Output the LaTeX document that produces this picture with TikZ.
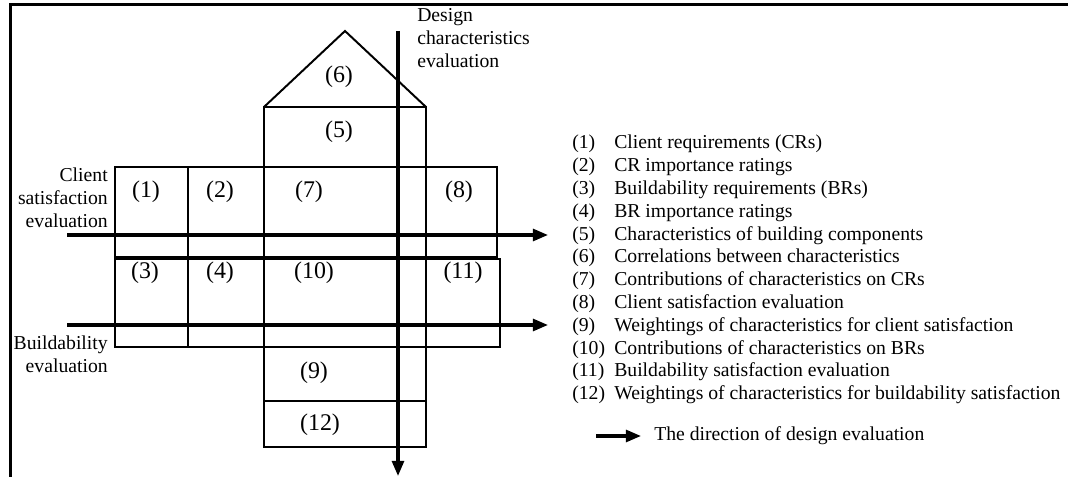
\documentclass[tikz,border=0pt]{standalone}
\usepackage{fontspec}
\setmainfont{Liberation Serif}
\usetikzlibrary{arrows.meta}

\tikzset{
	cell/.style={inner sep=0pt,font=\fontsize{17}{19}\selectfont},
	box/.style={line width=1.4pt},
	evalarrow/.style={line width=2.2pt,-{Triangle[length=0.38cm,width=0.3cm]}},
	sidelabel/.style={inner sep=0pt,align=right,anchor=east},
	legnum/.style={inner sep=0pt,anchor=base west},
}

\begin{document}
\begin{tikzpicture}[x=0.025cm,y=-0.025cm,font=\fontsize{14}{16.2}\selectfont]
	\useasboundingbox (0,0) rectangle (1068,477);
	\draw[line width=2pt] (10.5,477) -- (10.5,4.5) -- (1068,4.5);

	% house
	\draw[box] (264,107) -- (345,31) -- (426,107);
	\draw[box] (264,107) rectangle (426,447);
	\draw[box] (115,167) rectangle (497,257);
	\draw[box] (115,259) rectangle (500,347);
	\draw[box] (188,167) -- (188,347);
	\draw[box] (264,401) -- (426,401);

	\node[cell] (c6)  at (339, 77)  {(6)};
	\node[cell] (c5)  at (339,132)  {(5)};
	\node[cell] (c1)  at (146,192)  {(1)};
	\node[cell] (c2)  at (220,192)  {(2)};
	\node[cell] (c7)  at (309,192)  {(7)};
	\node[cell] (c8)  at (459,192)  {(8)};
	\node[cell] (c3)  at (145,273)  {(3)};
	\node[cell] (c4)  at (220,273)  {(4)};
	\node[cell] (c10) at (314,273)  {(10)};
	\node[cell] (c11) at (463,273)  {(11)};
	\node[cell] (c9)  at (314,373)  {(9)};
	\node[cell] (c12) at (320,425)  {(12)};

	% evaluation directions
	\coordinate (cs0) at (67,235);
	\coordinate (cs1) at (548,235);
	\coordinate (bs0) at (67,325);
	\coordinate (bs1) at (548,325);
	\coordinate (dc0) at (398,31);
	\coordinate (dc1) at (398,476);
	\draw[evalarrow] (cs0) -- (cs1);
	\draw[evalarrow] (bs0) -- (bs1);
	\draw[evalarrow] (dc0) -- (dc1);

	\node[sidelabel] (client) at (108,198) {Client\\satisfaction\\evaluation};
	\node[sidelabel] (build)  at (108,354) {Buildability\\evaluation};
	\node[inner sep=0pt,align=left,anchor=west] (design) at (417,38) {Design\\characteristics\\evaluation};

	% legend
	\node[legnum] (n1)  at (572,149.0) {(1)};
	\node[legnum] (t1)  at (614,149.0) {Client requirements (CRs)};
	\node[legnum] (n2)  at (572,171.8) {(2)};
	\node[legnum] (t2)  at (614,171.8) {CR importance ratings};
	\node[legnum] (n3)  at (572,194.6) {(3)};
	\node[legnum] (t3)  at (614,194.6) {Buildability requirements (BRs)};
	\node[legnum] (n4)  at (572,217.4) {(4)};
	\node[legnum] (t4)  at (614,217.4) {BR importance ratings};
	\node[legnum] (n5)  at (572,240.2) {(5)};
	\node[legnum] (t5)  at (614,240.2) {Characteristics of building components};
	\node[legnum] (n6)  at (572,263.0) {(6)};
	\node[legnum] (t6)  at (614,263.0) {Correlations between characteristics};
	\node[legnum] (n7)  at (572,285.8) {(7)};
	\node[legnum] (t7)  at (614,285.8) {Contributions of characteristics on CRs};
	\node[legnum] (n8)  at (572,308.6) {(8)};
	\node[legnum] (t8)  at (614,308.6) {Client satisfaction evaluation};
	\node[legnum] (n9)  at (572,331.4) {(9)};
	\node[legnum] (t9)  at (614,331.4) {Weightings of characteristics for client satisfaction};
	\node[legnum] (n10) at (572,354.2) {(10)};
	\node[legnum] (t10) at (614,354.2) {Contributions of characteristics on BRs};
	\node[legnum] (n11) at (572,377.0) {(11)};
	\node[legnum] (t11) at (614,377.0) {Buildability satisfaction evaluation};
	\node[legnum] (n12) at (572,399.8) {(12)};
	\node[legnum] (t12) at (614,399.8) {Weightings of characteristics for buildability satisfaction};

	\coordinate (lg0) at (596,436);
	\coordinate (lg1) at (641,436);
	\draw[evalarrow] (lg0) -- (lg1);
	\node[legnum] (tdir) at (654,441) {The direction of design evaluation};
\end{tikzpicture}
\end{document}
